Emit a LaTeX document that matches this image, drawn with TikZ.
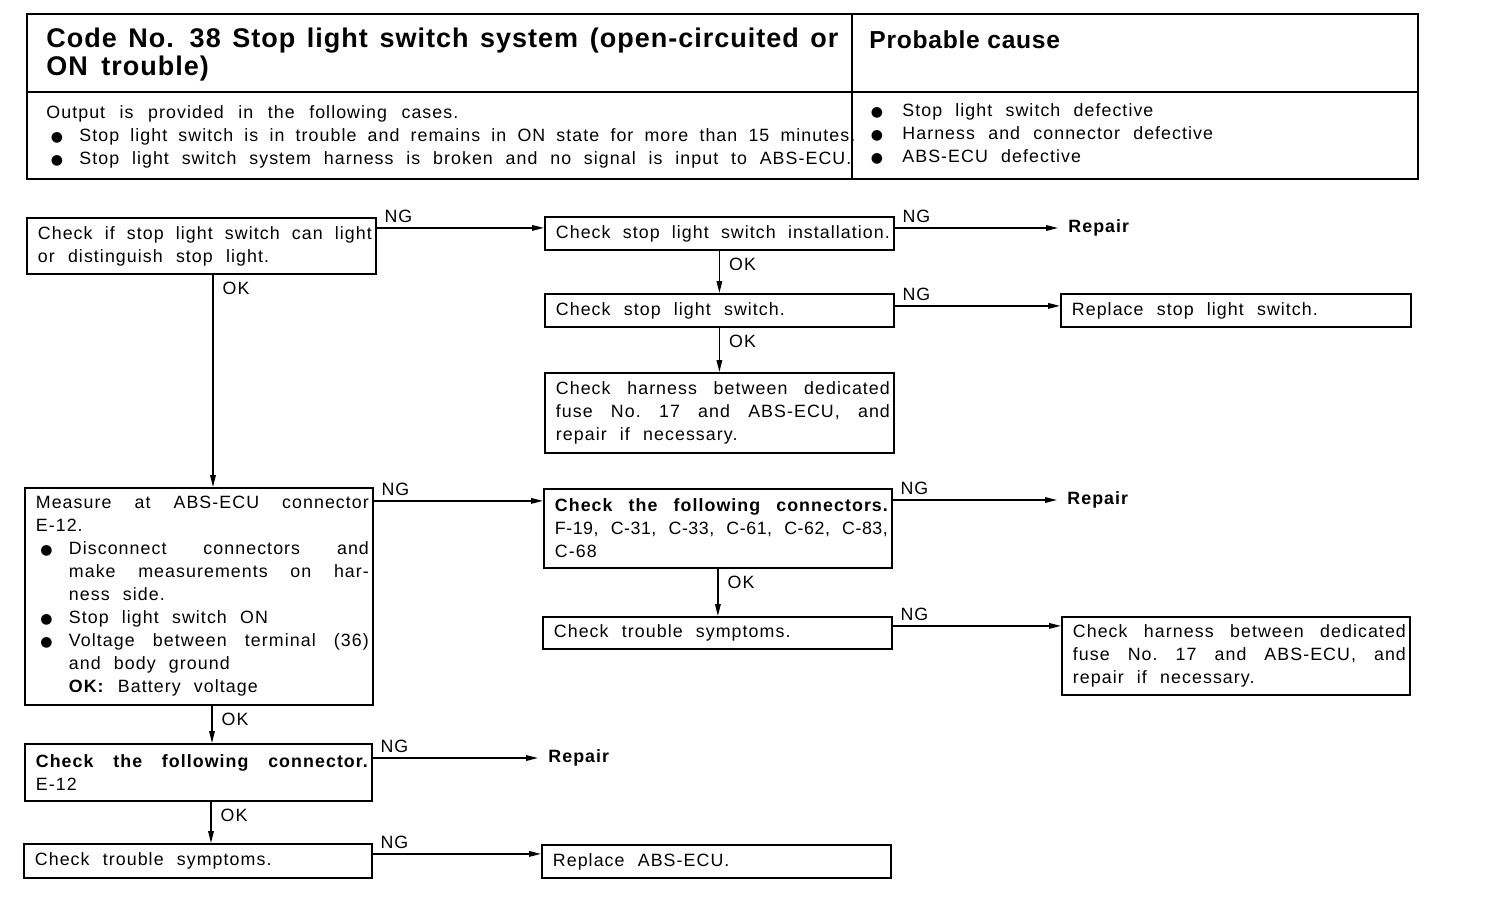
\documentclass[tikz,border=0pt]{standalone}
\usepackage{fontspec}
\setmainfont{Liberation Sans}[LetterSpace=6,WordSpace=2.2]
\newfontfamily\titlefont{Liberation Sans}[LetterSpace=3.7,WordSpace=1.6]
\newfontfamily\causefont{Liberation Sans}[LetterSpace=3,WordSpace=1.4]
\newfontfamily\tightfont{Liberation Sans}[LetterSpace=3,WordSpace=1]
\newfontfamily\dejavu{DejaVu Sans}
\usetikzlibrary{arrows.meta}
\newcommand\bulletmark{{\dejavu\fontsize{7}{7}\selectfont ●}}
\newcommand\bul{\makebox[16.5pt][l]{\hspace*{2.2pt}\bulletmark}}
\newcommand\bulr{\makebox[18pt][l]{\hspace*{2.2pt}\bulletmark}}
\newcommand\jl[1]{\makebox[\hsize][s]{#1}}
\newcommand\jb[1]{\bul\makebox[\dimexpr\hsize-16.5pt\relax][s]{#1}}
\newcommand\ji[1]{\hspace*{16.5pt}\makebox[\dimexpr\hsize-16.5pt\relax][s]{#1}}
\newcommand\ind{\hspace*{16.5pt}}
\newcommand\bt[2]{\hspace*{3.5pt}\parbox{#1}{\raggedright #2}}
\begin{document}
\begin{tikzpicture}[x=0.5pt,y=-0.5pt,
  box/.style={draw, line width=0.9pt, anchor=north west, inner xsep=2pt, inner ysep=0pt,
    font=\fontsize{8.9}{11.5}\selectfont},
  endtxt/.style={anchor=west, inner xsep=5pt, inner ysep=1pt, font=\fontsize{8.9}{11.5}\selectfont\bfseries},
  arr/.style={-{Triangle[length=6pt,width=2.8pt]}, line width=0.7pt},
  ng/.style={anchor=south west, inner sep=0pt, xshift=3.5pt, yshift=2.5pt, font=\fontsize{8.9}{11.5}\selectfont},
  ok/.style={anchor=north west, inner sep=0pt, xshift=4.5pt, yshift=-3.5pt, font=\fontsize{8.9}{11.5}\selectfont},
  htxt/.style={anchor=base west, inner sep=0pt, font=\fontsize{8.9}{11.5}\selectfont},
  ttxt/.style={anchor=base west, inner sep=0pt, font=\titlefont\bfseries\fontsize{13.5}{14}\selectfont}
]
\fill[white] (0,0) rectangle (1504,922);
\useasboundingbox (0,0) rectangle (1504,922);

% ---------- header table ----------
\draw[line width=1.2pt] (27,14) rectangle (1418,179);
\draw[line width=0.6pt] (27,92) -- (1418,92);
\draw[line width=0.6pt] (852,14) -- (852,179);
\node[ttxt] (t1) at (46,47) {\makebox[396pt][s]{Code No. 38 Stop light switch system (open-circuited or}};
\node[ttxt] (t2) at (46,75) {ON trouble)};
\node[anchor=base west, inner sep=0pt, font=\causefont\bfseries\fontsize{12.3}{14}\selectfont] (pc) at (869,48) {Probable cause};
\node[htxt] (o1) at (46,118) {\makebox[206pt][s]{Output is provided in the following cases.}};
\node[htxt] (o2) at (46,141) {\bul\makebox[388pt][s]{Stop light switch is in trouble and remains in ON state for more than 15 minutes.}};
\node[htxt] (o3) at (46,164) {\bul\makebox[386pt][s]{Stop light switch system harness is broken and no signal is input to ABS-ECU.}};
\node[htxt] (c1) at (866,116) {\bulr Stop light switch defective};
\node[htxt] (c2) at (866,139) {\bulr Harness and connector defective};
\node[htxt] (c3) at (866,162) {\bulr ABS-ECU defective};

% ---------- flowchart boxes ----------
\node[box, minimum width=174.5pt, minimum height=28pt] (A) at (26,217)
  {\bt{167pt}{\jl{Check if stop light switch can light}\\or distinguish stop light.}};
\node[box, minimum width=174.5pt, minimum height=16.5pt] (B) at (544,216)
  {\bt{167pt}{\jl{Check stop light switch installation.}}};
\node[box, minimum width=174.5pt, minimum height=16.5pt] (C) at (544,293)
  {\bt{167pt}{Check stop light switch.}};
\node[box, minimum width=175pt, minimum height=16.5pt] (D) at (1060,293)
  {\bt{167.5pt}{Replace stop light switch.}};
\node[box, minimum width=174.5pt, minimum height=40pt] (E) at (544,372)
  {\bt{167pt}{\jl{Check harness between dedicated}\\\jl{fuse No.\ 17 and ABS-ECU, and}\\repair if necessary.}};
\node[box, minimum width=174pt, minimum height=108.5pt] (F) at (24,487)
  {\bt{166.5pt}{\jl{Measure at ABS-ECU connector}\\E-12.\\\jb{Disconnect connectors and}\\\ji{make measurements on har-}\\\ind ness side.\\\bul Stop light switch ON\\\jb{Voltage between terminal (36)}\\\ind and body ground\\\ind\textbf{OK:} Battery voltage}};
\node[box, minimum width=174pt, minimum height=39.5pt] (G) at (543,488)
  {\bt{166.5pt}{\jl{\bfseries Check the following connectors.}\\\jl{\tightfont F-19, C-31, C-33, C-61, C-62, C-83,}\\C-68}};
\node[box, minimum width=174.5pt, minimum height=16pt] (H) at (542,616)
  {\bt{167pt}{Check trouble symptoms.}};
\node[box, minimum width=174pt, minimum height=39pt] (I) at (1061,616)
  {\bt{166.5pt}{\jl{Check harness between dedicated}\\\jl{fuse No.\ 17 and ABS-ECU, and}\\repair if necessary.}};
\node[box, minimum width=173.5pt, minimum height=28.5pt] (J) at (24,743)
  {\bt{166pt}{\jl{\bfseries Check the following connector.}\\E-12}};
\node[box, minimum width=174pt, minimum height=17pt] (K) at (23,843)
  {\bt{166.5pt}{Check trouble symptoms.}};
\node[box, minimum width=174.5pt, minimum height=16.5pt] (L) at (541,844)
  {\bt{167pt}{Replace ABS-ECU.}};

\node[endtxt] (R1) at (1058,228) {Repair};
\node[endtxt] (R2) at (1057,500) {Repair};
\node[endtxt] (R3) at (538,758) {Repair};

% ---------- connectors ----------
\coordinate (ab) at ([yshift=2.75pt]B.west);
\draw[arr] (ab -| A.east) -- node[ng, pos=0] {NG} (ab);
\draw[arr] (R1.west -| B.east) -- node[ng, pos=0] {NG} (R1.west);
\coordinate (cd) at ([yshift=2.25pt]C.east);
\draw[arr] (cd) -- node[ng, pos=0] {NG} (cd -| D.west);
\coordinate (fg) at ([yshift=13.75pt]G.west);
\draw[arr] (fg -| F.east) -- node[ng, pos=0] {NG} (fg);
\draw[arr] (R2.west -| G.east) -- node[ng, pos=0] {NG} (R2.west);
\coordinate (hi) at ([yshift=3.5pt]H.east);
\draw[arr] (hi) -- node[ng, pos=0] {NG} (hi -| I.west);
\draw[arr] (R3.west -| J.east) -- node[ng, pos=0] {NG} (R3.west);
\coordinate (kl) at ([yshift=3.5pt]K.east);
\draw[arr] (kl) -- node[ng, pos=0] {NG} (kl -| L.west);

\coordinate (af) at ([xshift=93.5pt]A.south west);
\draw[arr] (af) -- node[ok, pos=0] {OK} (af |- F.north);
\draw[arr] (B.south) -- node[ok, pos=0] {OK} (C.north);
\draw[arr] (C.south) -- node[ok, pos=0] {OK} (E.north);
\draw[arr] (G.south) -- node[ok, pos=0] {OK} (G.south |- H.north);
\coordinate (fj) at ([xshift=94pt]F.south west);
\draw[arr] (fj) -- node[ok, pos=0] {OK} (fj |- J.north);
\coordinate (jk) at ([xshift=93.5pt]J.south west);
\draw[arr] (jk) -- node[ok, pos=0] {OK} (jk |- K.north);
\end{tikzpicture}
\end{document}
